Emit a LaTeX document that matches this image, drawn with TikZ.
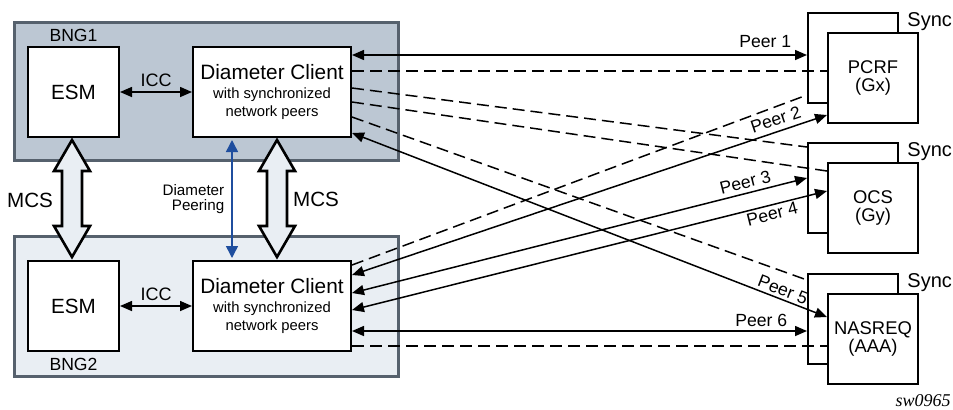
\documentclass[tikz,border=0pt]{standalone}
\usepackage{fontspec}
\setmainfont{Liberation Sans}
\newfontfamily\swfont{Liberation Serif}
\usetikzlibrary{arrows.meta,calc,positioning}

\definecolor{bngdark}{HTML}{BCC7D3}
\definecolor{bnglight}{HTML}{E9EEF3}
\definecolor{bngline}{HTML}{56616D}
\definecolor{peerblue}{HTML}{1F4E9E}

\tikzset{
  bngbox/.style={draw=bngline, line width=1.5pt, minimum width=192pt, inner sep=0},
  funcbox/.style={draw, line width=1pt, fill=white, inner sep=0, align=center, minimum height=45pt},
  srvbox/.style={draw, line width=1pt, fill=white, minimum width=45pt, minimum height=45pt,
    inner sep=0, align=center, font=\fontsize{9.2}{9}\selectfont},
  peer/.style={line width=0.75pt, {Triangle[length=6pt,width=5pt]}-{Triangle[length=6pt,width=5pt]}},
  syncline/.style={line width=0.75pt, dash pattern=on 6pt off 3pt},
  peerlbl/.style={font=\fontsize{8.8}{10}\selectfont, inner sep=1pt},
  mcsarrow/.style={draw, line width=1.3pt, fill=bnglight, line join=miter},
  lbl/.style={inner sep=0, font=\fontsize{8.8}{10}\selectfont},
}

\begin{document}
\begin{tikzpicture}[x=0.5pt, y=-0.5pt]
    \useasboundingbox (0,0) rectangle (953,409);
    % BNG frames
    \node[bngbox, fill=bngdark, minimum height=69pt] (bng1) at (206.5,91.5) {};
    \node[bngbox, fill=bnglight, minimum height=70pt] (bng2) at (206.5,306.5) {};
    % ESM and diameter clients
    \node[funcbox, minimum width=45.5pt, font=\fontsize{10.3}{12}\selectfont] (esm1) at (73.5,92) {ESM};
    \node[funcbox, minimum width=45.5pt, font=\fontsize{10.3}{12}\selectfont] (esm2) at (73.5,306) {ESM};
    \node[funcbox, minimum width=79pt, font=\fontsize{7.4}{9.2}\selectfont] (dc1) at (272,92)
        {{\fontsize{10.4}{12}\selectfont Diameter Client}\\with synchronized\\network peers};
    \node[funcbox, minimum width=79pt, font=\fontsize{7.4}{9.2}\selectfont] (dc2) at (272,306)
        {{\fontsize{10.4}{12}\selectfont Diameter Client}\\with synchronized\\network peers};
    \node[lbl, above=2pt of esm1] (bng1lbl) {BNG1};
    \node[lbl, below=3pt of esm2] (bng2lbl) {BNG2};

    % ICC
    \draw[peer] (esm1) -- (dc1) node[midway, above=1.5pt, inner sep=1pt, font=\fontsize{9}{10}\selectfont] (icc1) {ICC};
    \draw[peer] (esm2) -- (dc2) node[midway, above=1.5pt, inner sep=1pt, font=\fontsize{9}{10}\selectfont] (icc2) {ICC};

    % MCS between the two BNGs
    \foreach \a/\dx in {esm1/-1.5, dc1/5} {
        \draw[mcsarrow] ($(\a.south)+(\dx,2)$) -- ++(18,31) -- ++(-8,0) -- ++(0,55) -- ++(8,0)
            -- ++(-18,31) -- ++(-18,-31) -- ++(8,0) -- ++(0,-55) -- ++(-8,0) -- cycle;
    }
    \node[inner sep=0, font=\fontsize{10.3}{12}\selectfont] (mcs1) at (30,200) {MCS};
    \node[inner sep=0, font=\fontsize{10.3}{12}\selectfont] (mcs2) at (316,199) {MCS};

    % diameter peering
    \draw[peerblue, line width=0.75pt, {Triangle[length=6pt,width=6pt]}-{Triangle[length=6pt,width=6pt]},
        shorten <=1pt, shorten >=1pt] ($(dc1.south)+(-40,0)$) -- ($(dc2.north)+(-40,0)$)
        node[midway, left=3.5pt, inner sep=0, align=right, text=black, font=\fontsize{7.6}{7.8}\selectfont] (peering) {Diameter\\Peering};

    % servers
    \foreach \nm/\y/\txt in {pcrf/58/{PCRF\\(Gx)}, ocs/188/{OCS\\(Gy)}, nas/319/{NASREQ\\(AAA)}} {
        \node[srvbox] (\nm-back) at (853,\y) {};
        \node[srvbox, anchor=north west] (\nm) at ($(\nm-back.north west)+(20,20)$) {\txt};
        \node[anchor=north west, inner sep=0, xshift=4pt, font=\fontsize{10}{12}\selectfont] (\nm-sync) at (\nm-back.north east) {Sync};
    }

    % BNG1 peers
    \draw[peer] ($(dc1.north east)+(0,9)$) -- ($(pcrf-back.north west)+(0,43)$)
        node[peerlbl, pos=1, anchor=south east, xshift=-6.5pt, yshift=2.5pt] (peer1) {Peer 1};
    \draw[syncline] ($(dc1.north east)+(0,25)$) -- ($(pcrf.north west)+(0,39)$);
    \draw[syncline] ($(dc1.north east)+(0,42)$) -- ($(ocs-back.north west)+(0,5)$);
    \draw[syncline] ($(dc1.north east)+(0,56)$) -- ($(ocs.north west)+(0,9)$);
    \draw[syncline] ($(dc1.north east)+(0,71)$) -- ($(nas-back.north west)+(0,7)$);
    \draw[peer] ($(dc1.north east)+(0,87)$) -- ($(nas.north west)+(0,24)$)
        node[peerlbl, sloped, above=0.3pt, pos=0.9] (peer5) {Peer 5};

    % BNG2 peers
    \draw[syncline] ($(dc2.north east)+(0,5)$) -- ($(pcrf-back.north west)+(0,83)$);
    \draw[peer] ($(dc2.north east)+(0,15)$) -- ($(pcrf.north west)+(0,83)$)
        node[peerlbl, sloped, above=1.5pt, pos=0.9] (peer2) {Peer 2};
    \draw[peer] ($(dc2.north east)+(0,33)$) -- ($(ocs-back.north west)+(0,36)$)
        node[peerlbl, sloped, above=1pt, pos=0.87] (peer3) {Peer 3};
    \draw[peer] ($(dc2.north east)+(0,50)$) -- ($(ocs.north west)+(0,29)$)
        node[peerlbl, sloped, below, pos=0.88] (peer4) {Peer 4};
    \draw[peer] ($(dc2.north east)+(0,71)$) -- ($(nas-back.north west)+(0,58)$)
        node[peerlbl, pos=1, anchor=south east, xshift=-8.5pt, yshift=1pt] (peer6) {Peer 6};
    \draw[syncline] ($(dc2.north east)+(0,86)$) -- ($(nas.north west)+(0,53)$);

    \node[anchor=east, inner sep=0, font=\swfont\itshape\fontsize{9}{11}\selectfont] (swid) at (951,401) {sw0965};
\end{tikzpicture}
\end{document}
